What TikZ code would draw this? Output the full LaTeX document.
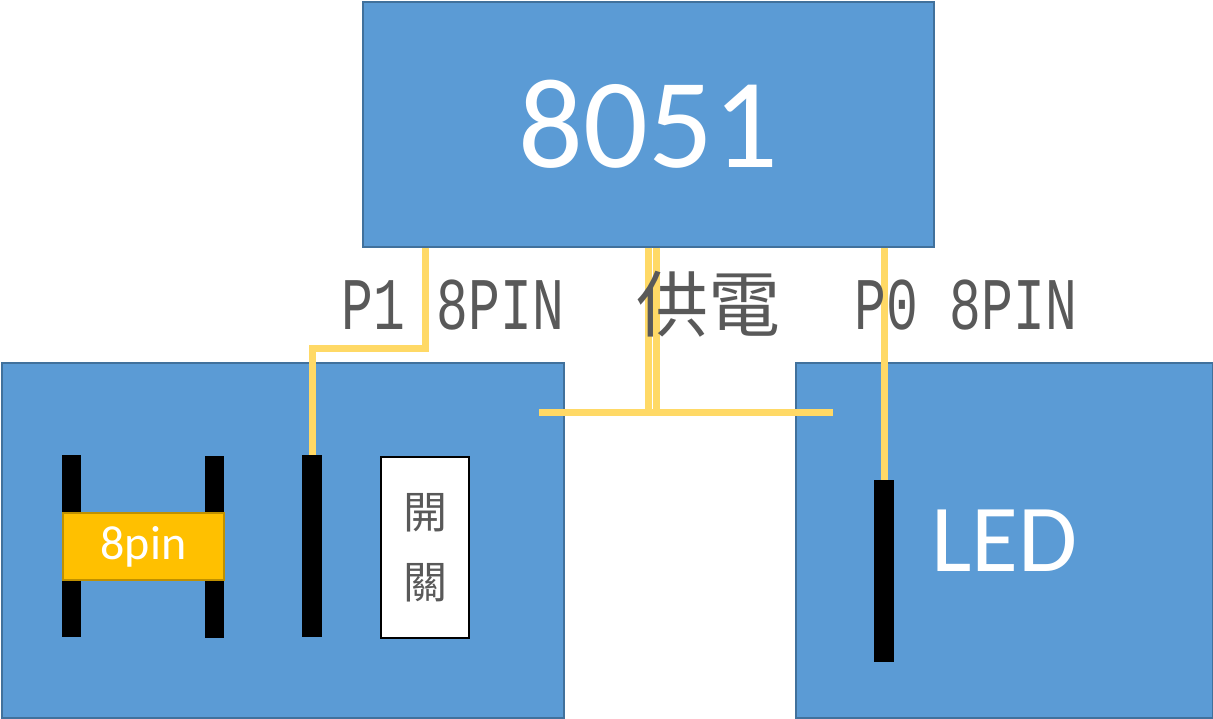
\documentclass[tikz,border=0pt]{standalone}
\usepackage{fontspec}
\setmainfont{Carlito}
\newfontfamily\cjk{Noto Sans CJK TC}
\newfontfamily\dotmono{Liberation Mono}
\usepackage{tikz}

\definecolor{boardblue}{HTML}{5B9BD5}
\definecolor{boardedge}{HTML}{41719C}
\definecolor{wireyellow}{HTML}{FFD966}
\definecolor{pinorange}{HTML}{FFC000}
\definecolor{pinedge}{HTML}{BF9000}

\tikzset{
  board/.style={draw=boardedge, fill=boardblue, line width=1.5pt, anchor=north west, inner sep=0pt, text=white},
  header/.style={fill=black, anchor=north west, inner sep=0pt},
  wire/.style={draw=wireyellow, line width=7pt},
  dotlabel/.style={anchor=west, inner sep=0pt, text=black!65}
}

\begin{document}
\begin{tikzpicture}[x=1pt,y=1pt,yscale=-1,xscale=1]
    \useasboundingbox (0,0) rectangle (1213,718);

    %Shape: Rectangle [id:chip]
    \node[board, minimum width=571pt, minimum height=245pt] (chip) at (362,1) {\fontsize{128}{130}\selectfont 8051};
    %Shape: Rectangle [id:leftboard]
    \node[board, minimum width=562pt, minimum height=355pt] (leftboard) at (1,362) {};
    %Shape: Rectangle [id:ledboard]
    \node[board, minimum width=417pt, minimum height=355pt] (ledboard) at (795,362) {\fontsize{96}{98}\selectfont LED};

    %Shape: Rectangle [id:pin headers]
    \node[header, minimum width=19pt, minimum height=182pt] (pinA) at (62,455) {};
    \node[header, minimum width=19pt, minimum height=182pt] (pinB) at (205,456) {};
    \node[header, minimum width=20pt, minimum height=182pt] (pinC) at (302,455) {};
    \node[header, minimum width=20pt, minimum height=182pt] (pinD) at (874,480) {};

    %Shape: Rectangle [id:8pin]
    \node[draw=pinedge, fill=pinorange, line width=2pt, anchor=north west, inner sep=0pt, text=white,
          minimum width=161pt, minimum height=67pt] (socket) at (62,512) {\fontsize{48}{50}\selectfont 8pin};
    %Shape: Rectangle [id:switch]
    \node[draw=black, fill=white, line width=2pt, anchor=north west, inner sep=0pt, text=black!65, align=center,
          font=\cjk\fontsize{44}{70}\selectfont,
          minimum width=88pt, minimum height=181pt] (switch) at (380,456) {開\\關};

    %Straight Lines [id:P1 wire]
    \draw[wire] ([xshift=63pt]chip.south west) -- ++(0,101) -| (pinC.north);
    %Straight Lines [id:power wire]
    \coordinate (pwrL) at (539,412);
    \coordinate (pwrR) at (833,412);
    \draw[wire] (chip.south) -- (chip.south |- pwrL);
    \draw[wire] ([xshift=8pt]chip.south) -- ([xshift=8pt]chip.south |- pwrL);
    \draw[wire] (pwrL) -- (pwrR);
    %Straight Lines [id:P0 wire]
    \draw[wire] (pinD.north |- chip.south) -- (pinD.north);

    % Text Node
    \node[dotlabel] (p1label) at (341,305) {\dotmono\fontsize{53}{55}\selectfont\scalebox{1}[1.4]{P1 8PIN}};
    % Text Node
    \node[dotlabel] (powerlabel) at (636,304) {\cjk\fontsize{72}{74}\selectfont 供電};
    % Text Node
    \node[dotlabel] (p0label) at (854,305) {\dotmono\fontsize{53}{55}\selectfont\scalebox{1}[1.4]{P0 8PIN}};

\end{tikzpicture}
\end{document}
